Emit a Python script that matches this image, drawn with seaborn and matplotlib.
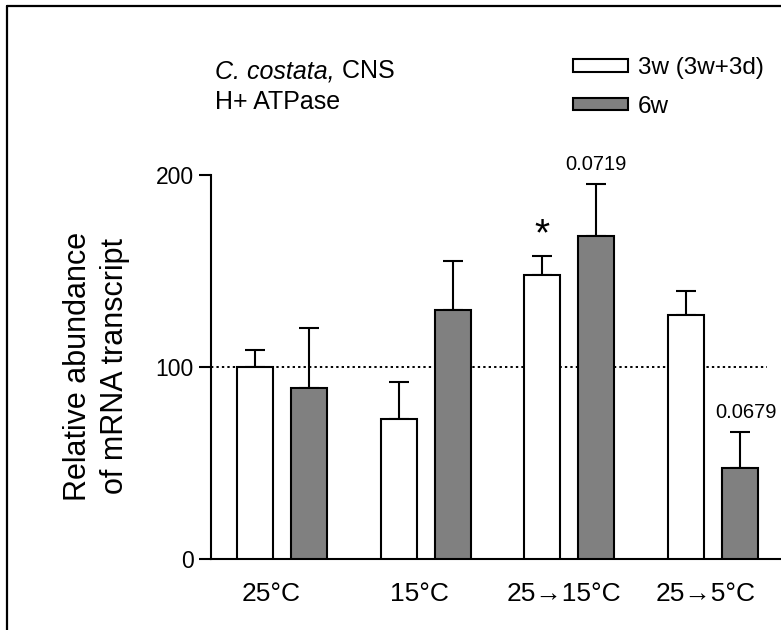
import matplotlib
matplotlib.use("Agg")
import matplotlib.pyplot as plt
import matplotlib.transforms as mtransforms
import seaborn as sns
import pandas as pd
from matplotlib.lines import Line2D

categories = ["25°C", "15°C", "25→15°C", "25→5°C"]
groups = ["3w (3w+3d)", "6w"]
mean_3w = [100, 73, 148, 127]
sem_3w = [9, 19.4, 10, 12.5]
mean_6w = [89, 129.5, 168.5, 47.7]
sem_6w = [31.5, 25.6, 27, 18.4]
annot_labels = ["*", "0.0719", "0.0679"]
yticks = [0, 100, 200]

sns.set_theme(style="white")
plt.rcParams["font.family"] = ["Liberation Sans", "DejaVu Sans"]

df = pd.DataFrame({
    "cond": categories * 2,
    "group": [groups[0]] * 4 + [groups[1]] * 4,
    "value": mean_3w + mean_6w,
})

fig = plt.figure(figsize=(7.81, 6.30), dpi=100)
ax = fig.add_axes([211 / 781, (630 - 559.3) / 630, 570 / 781, (559.3 - 175) / 630])

sns.barplot(data=df, x="cond", y="value", hue="group", order=categories,
            hue_order=groups, palette=["#ffffff", "#808080"], width=0.75,
            gap=0.333, edgecolor="black", linewidth=1.5, errorbar=None,
            ax=ax, legend=False, zorder=3)

bar_conts = list(ax.containers)[:2]
c0, c1 = bar_conts
errs = [sem_3w, sem_6w]
for ci, cont in enumerate(bar_conts):
    xs = [p.get_x() + p.get_width() / 2 for p in cont]
    hs = [p.get_height() for p in cont]
    ax.errorbar(xs, hs, yerr=[[0] * len(hs), errs[ci]], fmt="none",
                ecolor="black", elinewidth=1.5, capsize=7.2, capthick=1.5,
                zorder=2)

ax.set_xlim(-0.494, 3.473)
ax.set_ylim(0, 200)
ax.set_yticks(yticks)
ax.set_yticklabels([str(t) for t in yticks], fontsize=16.5)
ax.tick_params(axis="y", length=9, width=1.5, pad=3.5, color="black",
               left=True, labelcolor="black")
ax.tick_params(axis="x", length=0, pad=16, labelsize=19, labelcolor="black")
ax.set_xlabel("")
ax.set_ylabel("")
for s in ["top", "right"]:
    ax.spines[s].set_visible(False)
for s in ["left", "bottom"]:
    ax.spines[s].set_linewidth(1.5)
    ax.spines[s].set_color("black")

# shift x tick labels slightly left as in the reference
shifts = [-11, -6, -5, -7]
for lab, dx in zip(ax.get_xticklabels(), shifts):
    lab.set_transform(lab.get_transform() +
                      mtransforms.ScaledTranslation(dx / 100, 0, fig.dpi_scale_trans))

# reference line at 100
ax.plot([-0.494, 3.375], [100, 100], color="black", linewidth=1.4,
        linestyle=(0, (1.2, 1.6)), zorder=1, clip_on=False)

# annotations
w3 = c0[2].get_x() + c0[2].get_width() / 2
g3 = c1[2].get_x() + c1[2].get_width() / 2
g4 = c1[3].get_x() + c1[3].get_width() / 2
ax.text(w3, 168.5, annot_labels[0], ha="center", va="center", fontsize=28,
        color="black")
ax.text(g3, 202.6, annot_labels[1], ha="center", va="baseline", fontsize=14.5,
        color="black")
ax.text(g4 + 0.04, 73.5, annot_labels[2], ha="center", va="baseline",
        fontsize=14.5, color="black")

# legend
handles = [c0[0], c1[0]]
leg = ax.legend(handles, groups, loc="upper left",
                bbox_to_anchor=(573 / 781, 1 - 57 / 630),
                bbox_transform=fig.transFigure, frameon=False, fontsize=17.5,
                handlelength=2.26, handleheight=0.41, handletextpad=0.41,
                labelspacing=0.68, borderpad=0, borderaxespad=0)
for t in leg.get_texts():
    t.set_color("black")

# title text
t1 = fig.text(215 / 781, 1 - 78 / 630, "C. costata,", style="italic",
              fontsize=18, va="baseline", ha="left", color="black")
ax.annotate(" CNS", xy=(1, 0), xycoords=t1, va="bottom", ha="left",
            fontsize=18, color="black")
fig.text(215 / 781, 1 - 109 / 630, "H+ ATPase", fontsize=18, va="baseline",
         ha="left", color="black")

# y label
fig.text(96.5 / 781, 1 - 366 / 630, "Relative abundance\nof mRNA transcript",
         rotation=90, ha="center", va="center", fontsize=22,
         multialignment="center", linespacing=1.3, color="black")

# outer frame (left and top)
fig.add_artist(Line2D([7 / 781, 7 / 781], [0, 1 - 6 / 630],
                      transform=fig.transFigure, color="black", linewidth=1.6))
fig.add_artist(Line2D([7 / 781, 1], [1 - 6 / 630, 1 - 6 / 630],
                      transform=fig.transFigure, color="black", linewidth=1.6))

fig.savefig("out.png", dpi=100)
